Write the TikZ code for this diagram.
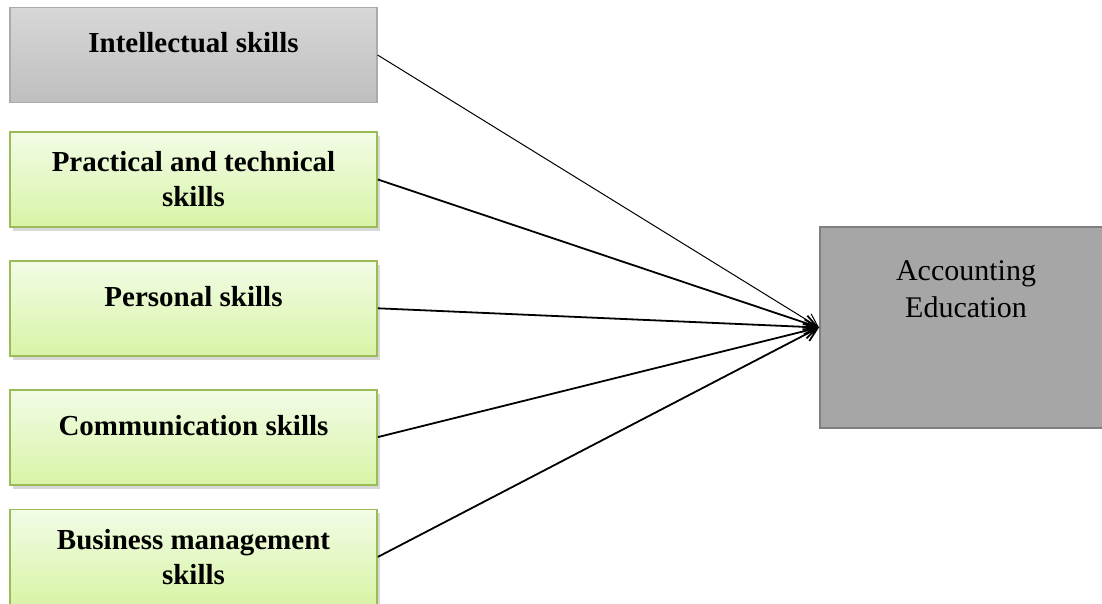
\documentclass[tikz,border=0pt]{standalone}
\usepackage{fontspec}
\setmainfont{Liberation Serif}
\usepackage{xcolor}
\usetikzlibrary{arrows.meta, positioning, shadows}

\definecolor{leaftop}{HTML}{F2FCE6}
\definecolor{leafbot}{HTML}{D8F4A6}
\definecolor{leafline}{HTML}{9BBB59}
\definecolor{greytop}{HTML}{D7D7D7}
\definecolor{greybot}{HTML}{BFBFBF}
\definecolor{greyline}{HTML}{ABABAB}
\definecolor{accfill}{HTML}{A6A6A6}
\definecolor{accline}{HTML}{7F7F7F}

\begin{document}
\begin{tikzpicture}[
    x=0.5pt, y=-0.5pt,
    node distance=16pt,
    box/.style={rectangle, minimum width=183.5pt, minimum height=47.5pt, inner sep=0pt, align=center,
        font=\fontsize{14.5}{17.5}\selectfont\bfseries},
    skill/.style={box, draw=leafline, line width=0.9pt, top color=leaftop, bottom color=leafbot,
        drop shadow={shadow xshift=1.5pt, shadow yshift=-2pt, fill=black!30, opacity=0.5}},
    oneline/.style={text height=10pt, text depth=12pt},
    accbox/.style={rectangle, draw=accline, line width=1pt, fill=accfill, minimum width=146pt, minimum height=100.5pt},
    link/.style={-{Straight Barb[length=6.5pt, width=7.5pt]}, line width=0.9pt}
]
\useasboundingbox (0,0) rectangle (1102,604);

\node[box, oneline, draw=greyline, line width=0.6pt, top color=greytop, bottom color=greybot] (intel) at (193.5,55) {Intellectual skills};
\node[skill, below=14pt of intel] (prac) {Practical and technical\\skills};
\node[skill, oneline, below=16pt of prac] (pers) {Personal skills};
\node[skill, oneline, below=16pt of pers] (comm) {Communication skills};
\node[skill, below=11.5pt of comm] (bus) {Business management\\skills};

\node[accbox, label={[anchor=north, align=center, inner sep=0pt, yshift=-17pt, font=\fontsize{15}{18.5}\selectfont]north:Accounting\\Education}] (acc) at (966,327.5) {};

\draw[link, line width=0.5pt] (intel.east) -- (acc.west);
\draw[link] (prac.east) -- (acc.west);
\draw[link] (pers.east) -- (acc.west);
\draw[link] (comm.east) -- (acc.west);
\draw[link] (bus.east) -- (acc.west);

\end{tikzpicture}
\end{document}
